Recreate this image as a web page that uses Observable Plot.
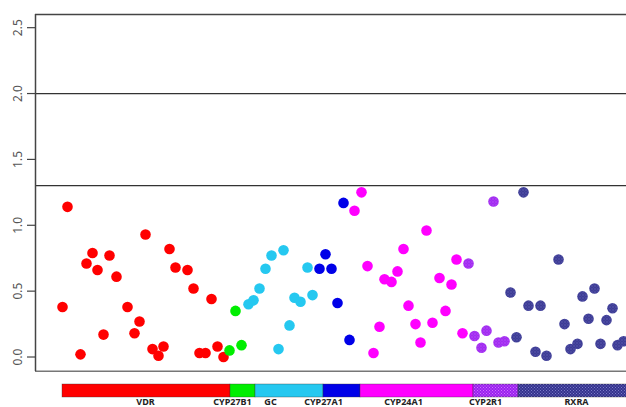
<!DOCTYPE html>
<html><head><meta charset="utf-8">
<script src="https://cdn.jsdelivr.net/npm/d3@7"></script>
<script src="https://cdn.jsdelivr.net/npm/@observablehq/plot@0.6"></script>
<style>
body{margin:0;background:#fff;font-family:"Liberation Sans",Arial,sans-serif}
svg{display:block}
#chart{width:626px;height:407px;overflow:hidden}
</style>
</head><body><div id="chart"></div>
<script>
// Genes (bar along the bottom)
const genes      = ["VDR","CYP27B1","GC","CYP27A1","CYP24A1","CYP2R1","RXRA"];
const geneStart  = [27, 195, 220, 288, 325, 438, 483];
const geneEnd    = [195, 220, 288, 325, 438, 483, 610];
const geneLabelX = [110, 197, 235, 288, 368, 450, 541];
const geneColors = ["#FF0000","#00EE00","#25C8F0","#0000E8","#FF00FF","url(#hatchPurple)","url(#hatchNavy)"];

// SNPs: position along the region, -log10(p), gene
const snpPos = [
  27,32,45,51,57,62,68,74,81,92,99,104,110,117,123,128,134,140,152,158,164,170,176,182,188,
  194,200,206,
  213,218,224,230,236,243,248,254,259,265,272,277,
  284,290,296,302,308,314,
  319,326,332,338,344,349,356,362,368,373,380,385,391,397,404,410,416,421,427,
  433,439,446,451,458,463,469,
  475,481,488,493,500,505,511,523,529,535,542,547,553,559,565,571,577,582,588
];
const snpLogP = [
  0.38,1.14,0.02,0.71,0.79,0.66,0.17,0.77,0.61,0.38,0.18,0.27,0.93,0.06,0.01,0.08,0.82,0.68,0.66,0.52,0.03,0.03,0.44,0.08,0.00,
  0.05,0.35,0.09,
  0.40,0.43,0.52,0.67,0.77,0.06,0.81,0.24,0.45,0.42,0.68,0.47,
  0.67,0.78,0.67,0.41,1.17,0.13,
  1.11,1.25,0.69,0.03,0.23,0.59,0.57,0.65,0.82,0.39,0.25,0.11,0.96,0.26,0.60,0.35,0.55,0.74,0.18,
  0.71,0.16,0.07,0.20,1.18,0.11,0.12,
  0.49,0.15,1.25,0.39,0.04,0.39,0.01,0.74,0.25,0.06,0.10,0.46,0.29,0.52,0.10,0.28,0.37,0.09,0.12
];
const snpGeneCounts = [25, 3, 12, 6, 19, 7, 19];
const thresholds = [1.301, 2];
const yTicks = [0, 0.5, 1, 1.5, 2, 2.5];

const snpGene = snpGeneCounts.flatMap((n, i) => Array(n).fill(genes[i]));
const snps = snpPos.map((p, i) => ({pos: p, logp: snpLogP[i], gene: snpGene[i]}));
const geneRows = genes.map((g, i) => ({gene: g, x1: geneStart[i], x2: geneEnd[i], lx: geneLabelX[i], color: geneColors[i]}));
const colorOf = Object.fromEntries(geneRows.map(d => [d.gene, d.color]));

const xDomain = [0, 591];
const yDomain = [-0.11, 2.6];

const main = Plot.plot({
  width: 626, height: 372,
  marginTop: 14, marginBottom: 1, marginLeft: 35, marginRight: 0,
  x: {domain: xDomain, axis: null},
  y: {domain: yDomain, axis: null},
  marks: [
    Plot.axisY({ticks: yTicks, tickFormat: d3.format(".1f"), tickRotate: -90, tickSize: 8, tickPadding: 6,
                fontSize: 12, stroke: "#444", color: "#555", strokeWidth: 1.2, label: null}),
    Plot.ruleY(thresholds, {stroke: "#333", strokeWidth: 1.2}),
    Plot.ruleY([yDomain[1]], {stroke: "#444", strokeWidth: 1.5}),
    Plot.ruleY([yDomain[0]], {stroke: "#777", strokeWidth: 2}),
    Plot.ruleX([xDomain[0]], {stroke: "#444", strokeWidth: 1.5}),
    Plot.dot(snps, {x: "pos", y: "logp", r: 5.3, fill: d => colorOf[d.gene], stroke: "none"})
  ]
});

const bar = Plot.plot({
  width: 626, height: 35,
  marginTop: 12, marginBottom: 10, marginLeft: 35, marginRight: 0,
  x: {domain: xDomain, axis: null},
  marks: [
    Plot.barX(geneRows, {x1: "x1", x2: "x2", fill: "color", stroke: "#333", strokeWidth: 0.6, strokeOpacity: 0.6}),
    Plot.text(geneRows, {x: "lx", text: "gene", frameAnchor: "bottom", dy: 5, fontSize: 9, fontWeight: "bold", fill: "#222", lineAnchor: "middle"})
  ]
});

function addPatterns(svg, suffix) {
  const defs = d3.select(svg).insert("defs", ":first-child");
  const mk = (id, base, light) => {
    const p = defs.append("pattern").attr("id", id + suffix).attr("patternUnits", "userSpaceOnUse").attr("width", 3).attr("height", 3);
    p.append("rect").attr("width", 3).attr("height", 3).attr("fill", base);
    p.append("rect").attr("x", 0).attr("y", 0).attr("width", 1).attr("height", 1).attr("fill", light);
    p.append("rect").attr("x", 1.5).attr("y", 1.5).attr("width", 1).attr("height", 1).attr("fill", light);
  };
  mk("hatchPurple", "#9A22EE", "#D070FF");
  mk("hatchNavy", "#34338E", "#7A7AC8");
}
addPatterns(main, "");
addPatterns(bar, "B");
d3.select(bar).selectAll("g rect").attr("fill", function(){ const f = this.getAttribute("fill"); return f && f.startsWith("url(#hatch") ? f.replace(")", "B)") : f; });

document.getElementById("chart").append(main, bar);
</script>
</body></html>
